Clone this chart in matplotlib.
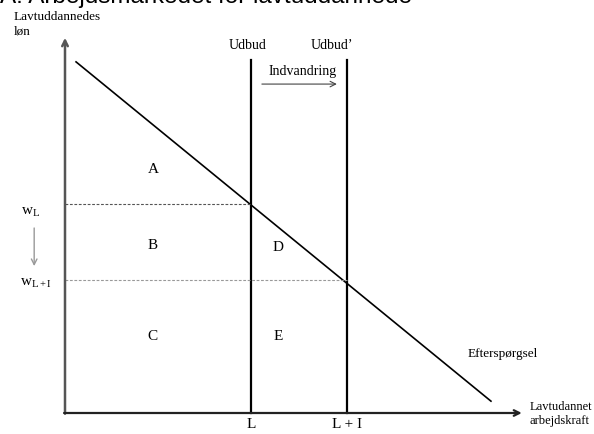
import matplotlib
matplotlib.use("Agg")
import matplotlib.pyplot as plt

plt.rcParams['font.family'] = ['Liberation Serif', 'DejaVu Serif']
plt.rcParams['mathtext.fontset'] = 'custom'
plt.rcParams['mathtext.rm'] = 'Liberation Serif'
plt.rcParams['mathtext.it'] = 'Liberation Serif'

# quantities (x) and wages (y) in arbitrary units
L = 4.04
L_I = 6.13
w_L = 5.65
w_LI = 3.59
demand_x = [0.24, 9.26]
demand_y = [9.49, 0.32]
supply_top = 9.54
x_max = 9.93
y_max = 10.14

areas = ["A", "B", "C", "D", "E"]
area_x = [1.91, 1.91, 1.91, 4.63, 4.63]
area_y = [6.57, 4.54, 2.08, 4.46, 2.08]

fig = plt.figure(figsize=(5.94, 4.34), dpi=100)
ax = fig.add_axes([0, 0, 1, 1])
ax.set_xlim(-65 / 46, 529 / 46)
ax.set_ylim(-21 / 37, 413 / 37)
ax.axis('off')

fig.text(0.0, 1 - 3 / 434, "A: Arbejdsmarkedet for lavtuddannede",
         family='Liberation Sans', fontsize=17.5, va='baseline', ha='left')

ax.annotate("", xy=(0, y_max), xytext=(0, -0.02),
            arrowprops=dict(arrowstyle='->', color='#555555', lw=1.8, shrinkA=0, shrinkB=0))
ax.annotate("", xy=(x_max, 0), xytext=(-0.02, 0),
            arrowprops=dict(arrowstyle='->', color='#222222', lw=1.6, shrinkA=0, shrinkB=0))

ax.plot([L, L], [0, supply_top], color='black', lw=1.6)
ax.plot([L_I, L_I], [0, supply_top], color='black', lw=1.6)
ax.plot(demand_x, demand_y, color='black', lw=1.2)

ax.plot([0, L], [w_L, w_L], color='#555555', lw=0.8, ls=(0, (2.5, 1.5)))
ax.plot([0, L_I], [w_LI, w_LI], color='#999999', lw=0.8, ls=(0, (2.5, 1.5)))

fs = 10
ax.text(3.96, 9.92, "Udbud", fontsize=fs, ha='center', va='center')
ax.text(5.80, 9.92, "Udbud\u2019", fontsize=fs, ha='center', va='center')
ax.text(5.17, 9.24, "Indvandring", fontsize=fs, ha='center', va='center')
ax.annotate("", xy=(5.91, 8.89), xytext=(4.28, 8.89),
            arrowprops=dict(arrowstyle='->', color='#444444', lw=0.8, shrinkA=0, shrinkB=0))

for lab, x, y in zip(areas, area_x, area_y):
    ax.text(x, y, lab, fontsize=fs + 1, ha='center', va='center')

ax.text(L, -0.32, "L", fontsize=fs + 1, ha='center', va='center')
ax.text(L_I, -0.32, "L + I", fontsize=fs + 1, ha='center', va='center')

ax.text(-0.74, 5.43, r"w$_{\mathrm{L}}$", fontsize=fs + 1, ha='center', va='center')
ax.text(-0.63, 3.51, r"w$_{\mathrm{L+I}}$", fontsize=fs + 1, ha='center', va='center')
ax.annotate("", xy=(-0.67, 3.97), xytext=(-0.67, 5.0),
            arrowprops=dict(arrowstyle='->', color='#999999', lw=1.0, shrinkA=0, shrinkB=0))

ax.text(8.76, 1.59, "Efterspørgsel", fontsize=9.5, ha='left', va='center')
ax.text(10.1, -0.03, "Lavtudannet\narbejdskraft", fontsize=9, ha='left',
        va='center', linespacing=1.3)
ax.text(-1.11, 10.5, "Lavtuddannedes\nløn", fontsize=9.5, ha='left',
        va='center', linespacing=1.3)

fig.savefig("out.png", dpi=100)
